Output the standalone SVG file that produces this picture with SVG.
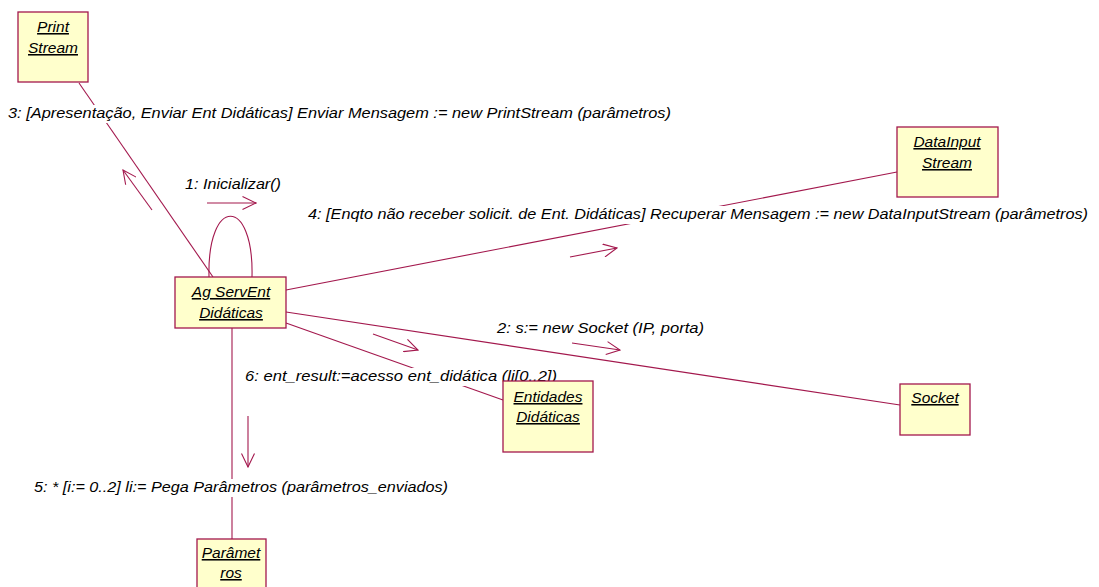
<svg xmlns="http://www.w3.org/2000/svg" width="1099" height="587" viewBox="0 0 1099 587">
<style>
.bg{fill:#ffffff}
.node rect{fill:#ffffcc;stroke:#a3184d;stroke-width:1.3}
.node text{font-family:"Liberation Sans",Arial,sans-serif;font-size:15.5px;font-style:italic;text-decoration:underline;text-anchor:middle;fill:#000}
.conn{stroke:#a3184d;stroke-width:1.1;fill:none}
.msg{stroke:#a3184d;stroke-width:1.1;fill:none;marker-end:url(#open)}
.lbl{font-family:"Liberation Sans",Arial,sans-serif;font-size:15px;font-style:italic;fill:#000}
.lblbg{fill:#ffffff}
</style>
<defs>
<marker id="open" viewBox="0 0 15 14" refX="14" refY="7" markerWidth="15" markerHeight="14" markerUnits="userSpaceOnUse" orient="auto">
<path d="M0.5,0.5 L14,7 L0.5,13.5" fill="none" stroke="#a3184d" stroke-width="1.1"/>
</marker>
</defs>
<rect class="bg" x="0" y="0" width="1099" height="587"/>
<g id="connectors">
<line class="conn" x1="79" y1="83" x2="213" y2="277"/>
<path class="conn" d="M209,277 C207,196 254,196 252,277"/>
<line class="conn" x1="286" y1="290" x2="897" y2="172"/>
<line class="conn" x1="286" y1="312" x2="900" y2="405"/>
<line class="conn" x1="286" y1="323" x2="503" y2="400"/>
<line class="conn" x1="232" y1="328" x2="232" y2="539"/>
<line class="msg" x1="152" y1="210" x2="123" y2="170"/>
<line class="msg" x1="207" y1="203" x2="256" y2="203"/>
<line class="msg" x1="570" y1="257" x2="617" y2="248"/>
<line class="msg" x1="572" y1="343" x2="620" y2="350"/>
<line class="msg" x1="373" y1="334" x2="418" y2="350"/>
<line class="msg" x1="248" y1="416" x2="248" y2="467"/>
<rect class="lblbg" x="6" y="105" width="668" height="18"/>
<text class="lbl" x="8" y="118" textLength="663" lengthAdjust="spacingAndGlyphs">3:  [Apresentação, Enviar Ent Didáticas] Enviar Mensagem :=  new PrintStream (parâmetros)</text>
<text class="lbl" x="185" y="189" textLength="96" lengthAdjust="spacingAndGlyphs">1: Inicializar()</text>
<rect class="lblbg" x="306" y="206" width="784" height="18"/>
<text class="lbl" x="308" y="219" textLength="780" lengthAdjust="spacingAndGlyphs">4: [Enqto não receber solicit. de Ent. Didáticas] Recuperar Mensagem :=  new DataInputStream (parâmetros)</text>
<text class="lbl" x="497" y="333" textLength="207" lengthAdjust="spacingAndGlyphs">2: s:= new Socket (IP, porta)</text>
<rect class="lblbg" x="243" y="368" width="316" height="18"/>
<text class="lbl" x="245" y="381" textLength="312" lengthAdjust="spacingAndGlyphs">6: ent_result:=acesso ent_didática (li[0..2])</text>
<rect class="lblbg" x="32" y="479" width="418" height="18"/>
<text class="lbl" x="34" y="492" textLength="414" lengthAdjust="spacingAndGlyphs">5: * [i:= 0..2] li:= Pega Parâmetros (parâmetros_enviados)</text>
</g>
<g id="printstream" class="node">
<rect x="18" y="12" width="70" height="70"/>
<text x="53" y="32">Print</text>
<text x="53" y="53">Stream</text>
</g>
<g id="agservent" class="node">
<rect x="175" y="277" width="111" height="51"/>
<text x="231" y="297">Ag ServEnt</text>
<text x="231" y="318">Didáticas</text>
</g>
<g id="datainputstream" class="node">
<rect x="897" y="127" width="101" height="70"/>
<text x="947" y="147">DataInput</text>
<text x="947" y="168">Stream</text>
</g>
<g id="socket" class="node">
<rect x="900" y="384" width="70" height="51"/>
<text x="935" y="403">Socket</text>
</g>
<g id="entidades" class="node">
<rect x="503" y="381" width="90" height="71"/>
<text x="548" y="402">Entidades</text>
<text x="548" y="422">Didáticas</text>
</g>
<g id="parametros" class="node">
<rect x="197" y="539" width="69" height="60"/>
<text x="231" y="558">Parâmet</text>
<text x="231" y="578">ros</text>
</g>
</svg>
